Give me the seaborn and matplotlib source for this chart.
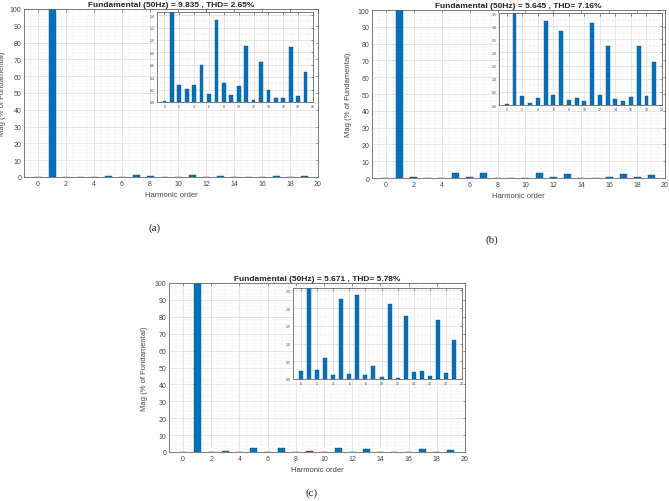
import matplotlib
matplotlib.use("Agg")
import matplotlib.pyplot as plt
import numpy as np
import pandas as pd
import seaborn as sns
from matplotlib.ticker import MultipleLocator

# harmonic orders 0..19, magnitude in % of fundamental
harmonics = list(range(20))
mag_a = [0.02, 100, 0.28, 0.21, 0.28, 0.60, 0.13, 1.32, 0.30, 0.12,
         0.25, 0.90, 0.04, 0.64, 0.20, 0.065, 0.07, 0.88, 0.09, 0.48]
mag_b = [0.03, 100, 0.34, 0.07, 0.26, 3.20, 0.37, 2.81, 0.18, 0.27,
         0.14, 3.11, 0.38, 2.26, 0.22, 0.14, 0.31, 2.26, 0.34, 1.62]
mag_c = [0.22, 100, 0.25, 0.59, 0.105, 2.26, 0.15, 2.36, 0.12, 0.38,
         0.05, 2.13, 0.03, 1.79, 0.19, 0.22, 0.09, 1.66, 0.16, 1.10]

titles = ["Fundamental (50Hz) = 9.835 , THD= 2.65%",
          "Fundamental (50Hz) = 5.645 , THD= 7.16%",
          "Fundamental (50Hz) = 5.671 , THD= 5.78%"]
captions = ["(a)", "(b)", "(c)"]
inset_ylims = [1.45, 3.5, 2.57]
inset_ysteps = [0.2, 0.5, 0.5]

BAR_COLOR = "#0072BD"
W, H = 669, 502


def px_rect(left, right, top, bottom):
    return [left / W, (H - bottom) / H, (right - left) / W, (bottom - top) / H]


def style_axes(ax, tick_size):
    for s in ax.spines.values():
        s.set_color("#666666")
        s.set_linewidth(0.6)
    ax.set_facecolor("white")
    ax.grid(True, which="major", color="#d6d6d6", linewidth=0.45)
    ax.grid(True, which="minor", color="#ececec", linewidth=0.3)
    ax.set_axisbelow(True)
    ax.tick_params(which="both", direction="in", top=True, right=True,
                   labelsize=tick_size, colors="#444444", length=1.8, width=0.4,
                   pad=2)
    ax.tick_params(which="minor", length=0)


def draw_bars(ax, values):
    df = pd.DataFrame({"order": harmonics, "mag": values})
    sns.barplot(data=df, x="order", y="mag", native_scale=True, width=0.5,
                color=BAR_COLOR, saturation=1, errorbar=None,
                edgecolor="#1c4e7a", linewidth=0.3, ax=ax)
    ax.set_xlim(-1, 20)
    ax.xaxis.set_major_locator(MultipleLocator(2))
    ax.xaxis.set_minor_locator(MultipleLocator(0.5))
    ax.set_xlabel("")
    ax.set_ylabel("")


sns.set_theme(style="whitegrid")
plt.rcParams["font.family"] = ["Liberation Sans", "DejaVu Sans"]

fig = plt.figure(figsize=(W / 100, H / 100), dpi=100)
fig.patch.set_facecolor("white")

main_rects = [px_rect(24, 318, 10, 178), px_rect(372, 665, 11, 179),
              px_rect(169, 465, 284, 453)]
inset_rects = [px_rect(157, 313, 13, 103), px_rect(499, 662, 14, 106),
               px_rect(293, 462, 289, 380)]
ylabel_x = [-0.062, -0.068, -0.071]
caption_pos = [(155, 228), (492, 240), (312, 493)]

for i, vals in enumerate([mag_a, mag_b, mag_c]):
    ax = fig.add_axes(main_rects[i])
    draw_bars(ax, vals)
    ax.set_ylim(0, 100)
    ax.yaxis.set_major_locator(MultipleLocator(10))
    ax.yaxis.set_minor_locator(MultipleLocator(2))
    style_axes(ax, 5)
    ax.set_title(titles[i], fontsize=6, fontweight="bold", pad=2, color="#222222")
    ax.set_xlabel("Harmonic order", fontsize=5.5, labelpad=3, color="#444444")
    ax.set_ylabel("Mag (% of Fundamental)", fontsize=5.5, color="#444444")
    ax.yaxis.set_label_coords(ylabel_x[i], 0.5)

    axi = fig.add_axes(inset_rects[i])
    draw_bars(axi, vals)
    axi.set_ylim(0, inset_ylims[i])
    axi.yaxis.set_major_locator(MultipleLocator(inset_ysteps[i]))
    axi.yaxis.set_minor_locator(MultipleLocator(inset_ysteps[i] / 2))
    style_axes(axi, 2.5)
    axi.tick_params(which="major", pad=1.5)

    cx, cy = caption_pos[i]
    fig.text(cx / W, 1 - cy / H, captions[i], fontsize=8, ha="center", va="center",
             family=["Liberation Serif", "DejaVu Serif"], color="#222222")

fig.savefig("out.png", dpi=100, facecolor="white")
